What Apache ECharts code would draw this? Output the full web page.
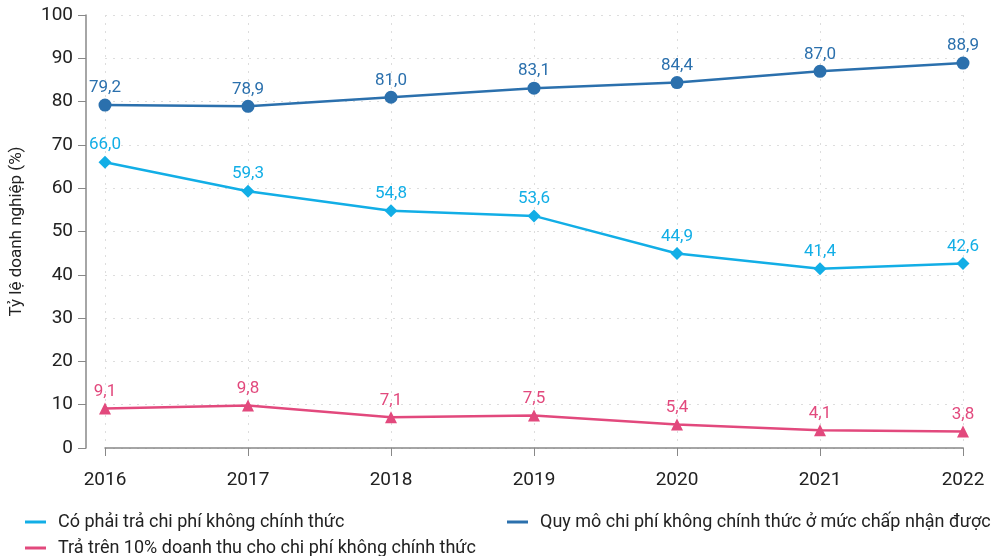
<!DOCTYPE html>
<html>
<head>
<meta charset="utf-8">
<script src="https://cdn.jsdelivr.net/npm/echarts@6/dist/echarts.min.js"></script>
<style>
  html, body { margin: 0; padding: 0; background: #fff; }
  #chart { width: 995px; height: 556px; }
</style>
</head>
<body>
<div id="chart"></div>
<script>
// Years on the x axis
const years = ['2016', '2017', '2018', '2019', '2020', '2021', '2022'];

// Series values (%)
const acceptable = [79.2, 78.9, 81.0, 83.1, 84.4, 87.0, 88.9];
const informalPay = [66.0, 59.3, 54.8, 53.6, 44.9, 41.4, 42.6];
const over10pct = [9.1, 9.8, 7.1, 7.5, 5.4, 4.1, 3.8];

const names = [
  'Có phải trả chi phí không chính thức',
  'Quy mô chi phí không chính thức ở mức chấp nhận được',
  'Trả trên 10% doanh thu cho chi phí không chính thức'
];

const FONT = 'Roboto';
const fmt = p => p.value.toFixed(1).replace('.', ',');

function lineSeries(name, data, color, symbol, size) {
  return {
    name: name,
    type: 'line',
    data: data,
    symbol: symbol,
    symbolSize: size,
    lineStyle: { color: color, width: 2.5 },
    itemStyle: { color: color },
    label: {
      show: true,
      position: 'top',
      distance: 2,
      color: color,
      fontFamily: FONT,
      fontSize: 17,
      formatter: fmt
    }
  };
}

function legendAt(name, left, top) {
  return {
    data: [name],
    left: left,
    top: top,
    itemWidth: 21,
    itemHeight: 3,
    icon: 'rect',
    textStyle: { fontSize: 18, color: '#222', fontFamily: FONT, padding: [0, 0, 0, 7] }
  };
}

const chart = echarts.init(document.getElementById('chart'));
chart.setOption({
  animation: false,
  textStyle: { fontFamily: FONT },
  grid: { left: 105, right: 32, top: 15, bottom: 108, outerBoundsMode: 'none' },
  legend: [
    legendAt(names[0], 20, 508),
    legendAt(names[2], 20, 534),
    legendAt(names[1], 502, 508)
  ],
  xAxis: {
    type: 'category',
    data: years,
    boundaryGap: false,
    offset: 13,
    axisLine: { lineStyle: { color: '#888', width: 1.5 } },
    axisTick: { alignWithLabel: true, length: 8, lineStyle: { color: '#888' } },
    axisLabel: { fontSize: 19, color: '#222', margin: 10 },
    splitLine: { show: true, lineStyle: { color: '#ddd', type: [2, 6] } }
  },
  yAxis: {
    type: 'value',
    min: 0,
    max: 100,
    interval: 10,
    offset: 19,
    name: 'Tỷ lệ doanh nghiệp (%)',
    nameLocation: 'middle',
    nameGap: 61,
    nameTextStyle: { fontSize: 17, color: '#222' },
    axisLine: { show: true, lineStyle: { color: '#888', width: 1.5 } },
    axisTick: { show: true, length: 8, lineStyle: { color: '#888' } },
    axisLabel: { fontSize: 19, color: '#222', margin: 13 },
    splitLine: { show: true, lineStyle: { color: '#ddd', type: [2, 6] } }
  },
  series: [
    lineSeries(names[0], informalPay, '#12aee6', 'diamond', 13),
    lineSeries(names[1], acceptable, '#2b70ad', 'circle', 13),
    lineSeries(names[2], over10pct, '#e2497d', 'triangle', 12)
  ]
});
</script>
</body>
</html>
